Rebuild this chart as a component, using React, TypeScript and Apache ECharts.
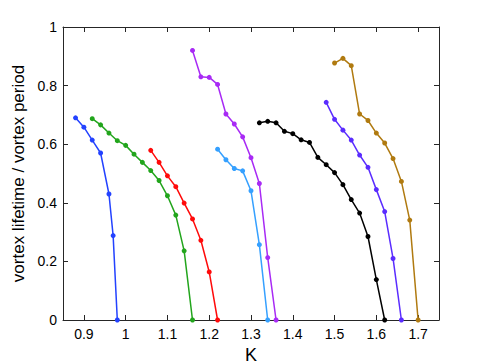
import React, { useEffect, useRef } from "react";
import * as echarts from "echarts";

const xTicks = [0.9, 1.0, 1.1, 1.2, 1.3, 1.4, 1.5, 1.6, 1.7];
const yTicks = [0, 0.2, 0.4, 0.6, 0.8, 1];

const blueK = [0.88, 0.90, 0.92, 0.94, 0.96, 0.97, 0.98];
const blueV = [0.69, 0.658, 0.614, 0.57, 0.43, 0.288, 0];

const greenK = [0.92, 0.94, 0.96, 0.98, 1.0, 1.02, 1.04, 1.06, 1.08, 1.10, 1.12, 1.14, 1.16];
const greenV = [0.687, 0.666, 0.638, 0.612, 0.596, 0.566, 0.538, 0.51, 0.476, 0.424, 0.358, 0.236, 0];

const redK = [1.06, 1.08, 1.10, 1.12, 1.14, 1.16, 1.18, 1.20, 1.22];
const redV = [0.579, 0.538, 0.492, 0.455, 0.399, 0.345, 0.272, 0.164, 0];

const violetK = [1.16, 1.18, 1.20, 1.22, 1.24, 1.26, 1.28, 1.30, 1.32, 1.34, 1.36];
const violetV = [0.92, 0.83, 0.828, 0.804, 0.703, 0.669, 0.625, 0.554, 0.466, 0.213, 0];

const skyK = [1.22, 1.24, 1.26, 1.28, 1.30, 1.32, 1.34];
const skyV = [0.583, 0.547, 0.517, 0.509, 0.441, 0.257, 0];

const blackK = [1.32, 1.34, 1.36, 1.38, 1.40, 1.42, 1.44, 1.46, 1.48, 1.50, 1.52, 1.54, 1.56, 1.58, 1.60, 1.62];
const blackV = [0.673, 0.678, 0.673, 0.644, 0.636, 0.615, 0.606, 0.555, 0.53, 0.503, 0.462, 0.411, 0.365, 0.285, 0.138, 0];

const indigoK = [1.48, 1.50, 1.52, 1.54, 1.56, 1.58, 1.60, 1.62, 1.64, 1.66];
const indigoV = [0.743, 0.685, 0.648, 0.614, 0.563, 0.521, 0.445, 0.37, 0.21, 0];

const goldK = [1.50, 1.52, 1.54, 1.56, 1.58, 1.60, 1.62, 1.64, 1.66, 1.68, 1.70];
const goldV = [0.877, 0.893, 0.868, 0.703, 0.681, 0.638, 0.604, 0.551, 0.473, 0.341, 0];

const seriesDefs = [
  { name: "s1", k: blueK, v: blueV, color: "#2342ff" },
  { name: "s2", k: greenK, v: greenV, color: "#22a51c" },
  { name: "s3", k: redK, v: redV, color: "#ff0a0a" },
  { name: "s4", k: violetK, v: violetV, color: "#a82af5" },
  { name: "s5", k: skyK, v: skyV, color: "#35a0ff" },
  { name: "s6", k: blackK, v: blackV, color: "#000000" },
  { name: "s7", k: indigoK, v: indigoV, color: "#5a2cff" },
  { name: "s8", k: goldK, v: goldV, color: "#b07a10" },
];

const FONT = "Liberation Sans, Arial, Helvetica, sans-serif";
const AXIS_COLOR = "#262626";

export default function App() {
  const ref = useRef<HTMLDivElement>(null);
  useEffect(() => {
    if (!ref.current) return;
    const chart = echarts.init(ref.current, null, { renderer: "svg" });
    const axisCommon = {
      axisLine: { show: true, onZero: false, lineStyle: { color: AXIS_COLOR, width: 1 } },
      splitLine: { show: false },
    };
    chart.setOption({
      animation: false,
      backgroundColor: "#ffffff",
      grid: { left: 63, right: 46, top: 27, bottom: 44, containLabel: false, outerBoundsMode: "none" },
      xAxis: [
        {
          type: "value",
          min: 0.85,
          max: 1.75,
          position: "bottom",
          ...axisCommon,
          axisTick: { show: true, inside: true, length: 5, customValues: xTicks, lineStyle: { color: AXIS_COLOR } },
          axisLabel: {
            customValues: xTicks,
            color: "#000",
            fontSize: 14,
            fontFamily: FONT,
            margin: 7,
            formatter: (v: number) => String(Math.round(v * 10) / 10),
          },
          name: "K",
          nameLocation: "middle",
          nameGap: 24,
          nameTextStyle: { color: "#000", fontSize: 18, fontFamily: FONT },
        },
        {
          type: "value",
          min: 0.85,
          max: 1.75,
          position: "top",
          ...axisCommon,
          axisTick: { show: true, inside: true, length: 5, customValues: xTicks, lineStyle: { color: AXIS_COLOR } },
          axisLabel: { show: false },
        },
      ],
      yAxis: [
        {
          type: "value",
          min: 0,
          max: 1,
          interval: 0.2,
          position: "left",
          ...axisCommon,
          axisTick: { show: true, inside: true, length: 5, lineStyle: { color: AXIS_COLOR } },
          axisLabel: {
            customValues: yTicks,
            color: "#000",
            fontSize: 14,
            fontFamily: FONT,
            margin: 6,
            formatter: (v: number) => String(Math.round(v * 10) / 10),
          },
          name: "vortex lifetime / vortex period",
          nameLocation: "middle",
          nameGap: 31,
          nameTextStyle: { color: "#000", fontSize: 17, fontFamily: FONT },
        },
        {
          type: "value",
          min: 0,
          max: 1,
          interval: 0.2,
          position: "right",
          ...axisCommon,
          axisTick: { show: true, inside: true, length: 5, lineStyle: { color: AXIS_COLOR } },
          axisLabel: { show: false },
        },
      ],
      series: seriesDefs.map((s) => ({
        name: s.name,
        type: "line",
        xAxisIndex: 0,
        yAxisIndex: 0,
        data: s.k.map((k, i) => [k, s.v[i]]),
        symbol: "circle",
        symbolSize: 5,
        showSymbol: true,
        lineStyle: { color: s.color, width: 1.5 },
        itemStyle: { color: s.color },
        clip: false,
        z: 3,
      })),
    });
    return () => chart.dispose();
  }, []);
  return <div ref={ref} style={{ width: 485, height: 364, position: "absolute", left: 0, top: 0 }} />;
}
